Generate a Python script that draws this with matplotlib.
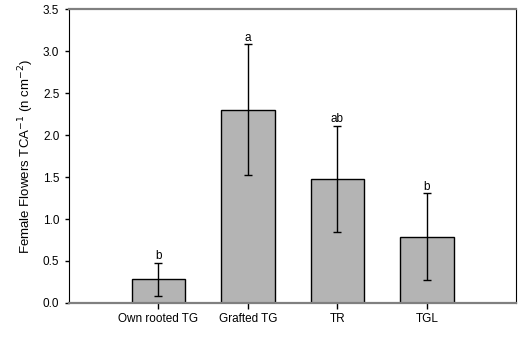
import matplotlib
matplotlib.use('Agg')
import matplotlib.pyplot as plt
import numpy as np

# Data
treatments = ['Own rooted TG', 'Grafted TG', 'TR', 'TGL']
means = [0.28, 2.30, 1.48, 0.79]
errors = [0.20, 0.78, 0.63, 0.52]
letters = ['b', 'a', 'ab', 'b']

plt.rcParams['font.family'] = ['Liberation Sans', 'DejaVu Sans']

fig = plt.figure(figsize=(5.23, 3.37), dpi=100)
ax = fig.add_axes([0.132, 0.101, 0.855, 0.872])

x = np.arange(len(treatments))
ax.bar(x, means, width=0.6, color='#b4b4b4', edgecolor='black', linewidth=1.0, zorder=2)
ax.errorbar(x, means, yerr=errors, fmt='none', ecolor='black', elinewidth=1.0,
            capsize=3, capthick=1.0, zorder=3)

for xi, m, e, lab in zip(x, means, errors, letters):
    ax.text(xi, m + e + 0.005, lab, ha='center', va='bottom', fontsize=8.5)

ax.set_xlim(-1, 4)
ax.set_ylim(0, 3.5)
ax.set_xticks(x)
ax.set_xticklabels(treatments)
ax.set_yticks(np.arange(0, 3.51, 0.5))
ax.set_yticklabels([f'{v:.1f}' for v in np.arange(0, 3.51, 0.5)])
ax.tick_params(axis='both', labelsize=8.5, direction='out', length=4, width=1, color='black')
ax.tick_params(axis='y', length=3, pad=4)

ax.set_ylabel('Female Flowers TCA$^{-1}$ (n cm$^{-2}$)', fontsize=9.5, labelpad=5)

for side in ['top', 'bottom']:
    ax.spines[side].set_color('#808080')
    ax.spines[side].set_linewidth(1.6)
for side in ['left', 'right']:
    ax.spines[side].set_color('black')
    ax.spines[side].set_linewidth(0.8)

fig.savefig('out.png', dpi=100)
